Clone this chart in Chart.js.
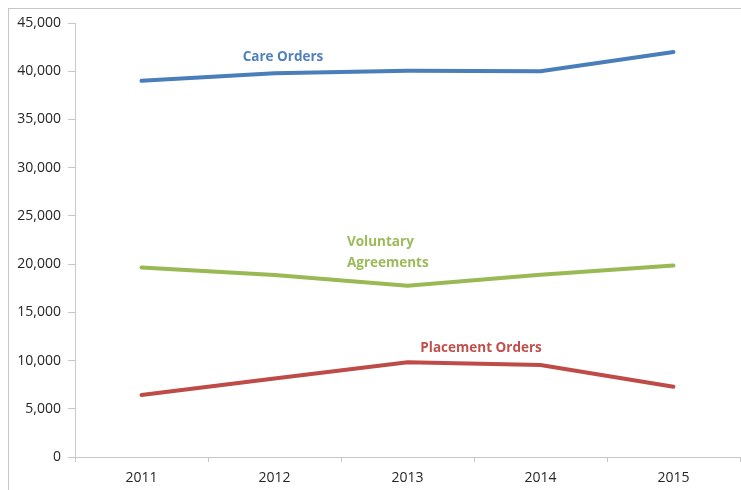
<!DOCTYPE html>
<html lang="en">
<head>
    <meta charset="UTF-8">
    <title>Care Orders, Voluntary Agreements and Placement Orders</title>
    <script src="https://cdn.jsdelivr.net/npm/chart.js"></script>
    <style>
        html, body { margin: 0; padding: 0; background: #fff; overflow: hidden; }
        #frame {
            position: absolute; left: 8px; top: 8px;
            width: 900px; height: 700px;
            border: 1px solid #c6c6c6;
        }
        #wrap { position: absolute; left: 0; top: 0; width: 741px; height: 490px; }
    </style>
</head>
<body>
    <div id="frame"></div>
    <div id="wrap"><canvas id="ordersChart"></canvas></div>

    <script>
        const years = ["2011", "2012", "2013", "2014", "2015"];
        const careOrders = [39000, 39800, 40050, 40000, 42000];
        const voluntaryAgreements = [19650, 18870, 17750, 18900, 19850];
        const placementOrders = [6430, 8150, 9820, 9540, 7290];

        const blue = "#4A7EBB";
        const green = "#98B954";
        const red = "#BE4B48";

        // inline series labels, placed in data coordinates (x = category index)
        const seriesLabels = [
            { lines: ["Care Orders"], x: 1.064, y: [41500], align: "center", color: "#4F81BD" },
            { lines: ["Voluntary", "Agreements"], x: 1.545, y: [22300, 20150], align: "left", color: "#9BBB59" },
            { lines: ["Placement Orders"], x: 2.553, y: [11300], align: "center", color: "#C0504D" }
        ];

        const inlineLabels = {
            id: "inlineLabels",
            afterDatasetsDraw(chart) {
                const ctx = chart.ctx;
                const xs = chart.scales.x, ys = chart.scales.y;
                const step = xs.getPixelForValue(1) - xs.getPixelForValue(0);
                ctx.save();
                ctx.font = "bold 13.5px 'Open Sans'";
                ctx.textBaseline = "middle";
                seriesLabels.forEach(l => {
                    ctx.fillStyle = l.color;
                    ctx.textAlign = l.align;
                    const px = xs.getPixelForValue(0) + l.x * step;
                    l.lines.forEach((t, i) => ctx.fillText(t, px, ys.getPixelForValue(l.y[i])));
                });
                ctx.restore();
            }
        };

        const line = (data, color) => ({
            data: data,
            borderColor: color,
            backgroundColor: color,
            borderWidth: 4,
            pointRadius: 0,
            tension: 0,
            borderCapStyle: "round"
        });

        new Chart(document.getElementById("ordersChart"), {
            type: "line",
            data: {
                labels: years,
                datasets: [
                    line(careOrders, blue),
                    line(voluntaryAgreements, green),
                    line(placementOrders, red)
                ]
            },
            options: {
                responsive: true,
                maintainAspectRatio: false,
                animation: false,
                events: [],
                layout: { padding: { top: 23, right: 1, left: 0, bottom: 0 } },
                plugins: { legend: { display: false }, tooltip: { enabled: false } },
                scales: {
                    x: {
                        offset: true,
                        border: { color: "#c8c8c8", width: 1 },
                        grid: { offset: true, drawOnChartArea: false, tickLength: 5, color: "#c8c8c8" },
                        ticks: { color: "#262626", padding: 8, font: { family: "'Open Sans'", size: 14 } },
                        afterFit: s => { s.height = 33; }
                    },
                    y: {
                        min: 0,
                        max: 45000,
                        border: { color: "#c8c8c8", width: 1 },
                        grid: { drawOnChartArea: false, tickLength: 7, color: "#c8c8c8" },
                        ticks: {
                            stepSize: 5000,
                            color: "#262626",
                            padding: 7,
                            font: { family: "'Open Sans'", size: 14 },
                            callback: v => v.toLocaleString("en-US")
                        },
                        afterFit: s => { s.width = 75; }
                    }
                }
            },
            plugins: [inlineLabels]
        });
    </script>
</body>
</html>
